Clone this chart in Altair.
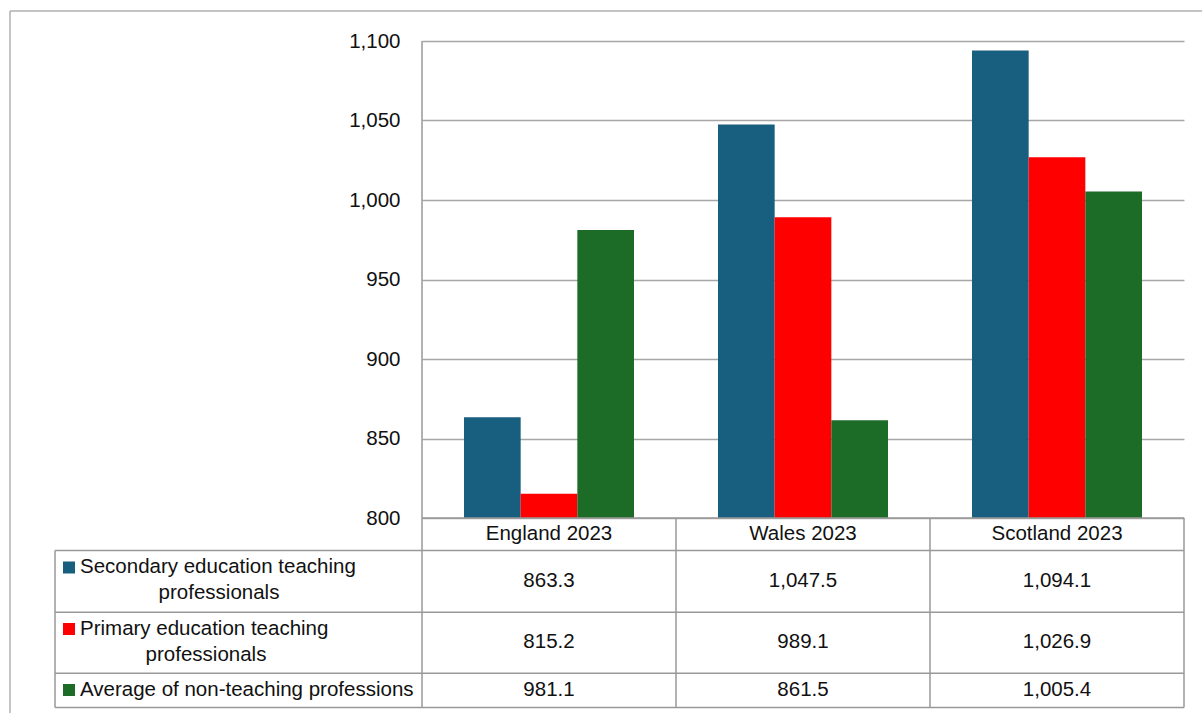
import altair as alt
import pandas as pd

categories = ["England 2023", "Wales 2023", "Scotland 2023"]
series = [
    "Secondary education teaching professionals",
    "Primary education teaching professionals",
    "Average of non-teaching professions",
]
secondary = [863.3, 1047.5, 1094.1]
primary = [815.2, 989.1, 1026.9]
non_teaching = [981.1, 861.5, 1005.4]
colors = ["#175E7F", "#FF0000", "#1C6B27"]
y_ticks = [800, 850, 900, 950, 1000, 1050, 1100]

rows = []
for s, vals in zip(series, [secondary, primary, non_teaching]):
    for c, v in zip(categories, vals):
        rows.append({"category": c, "series": s, "value": v})
df = pd.DataFrame(rows)
one = pd.DataFrame({"k": [0]})

FONT = "Liberation Sans"
FS = 20.5
GRID = "#A6A6A6"
LINE = "#999999"

W, H = 762, 477

x_enc = alt.X("category:N", sort=categories,
              scale=alt.Scale(paddingInner=0, paddingOuter=0), axis=None)

bars = alt.Chart(df).mark_bar(clip=True).encode(
    x=x_enc,
    xOffset=alt.XOffset("series:N", sort=series,
                        scale=alt.Scale(paddingOuter=0.741, paddingInner=0)),
    y=alt.Y("value:Q",
            scale=alt.Scale(domain=[800, 1100], nice=False, zero=False),
            axis=alt.Axis(values=y_ticks, format=",.0f", title=None, grid=True,
                          gridColor=GRID, gridWidth=1.5, domain=False, ticks=False,
                          labelFont=FONT, labelFontSize=FS, labelColor="#111111",
                          labelPadding=22)),
    color=alt.Color("series:N", sort=series,
                    scale=alt.Scale(domain=series, range=colors), legend=None),
)


def rule(x, x2, y, y2, color=LINE, w=1.5):
    return alt.Chart(one).mark_rule(color=color, strokeWidth=w).encode(
        x=alt.value(x), x2=alt.value(x2), y=alt.value(y), y2=alt.value(y2))


lines = [
    # outer frame
    rule(-412, 800, -30, -30, "#B0B0B0"),
    rule(-412, -412, -30, 680, "#B0B0B0"),
    # axis / table
    rule(0, W, H, H),
    rule(0, 0, 0, 666.5),
    rule(254, 254, H, 666.5),
    rule(508, 508, H, 666.5),
    rule(W, W, H, 666.5),
    rule(-367, -367, 509.5, 666.5),
    rule(-367, W, 509.5, 509.5),
    rule(-367, W, 571.3, 571.3),
    rule(-367, W, 632.3, 632.3),
    rule(-367, W, 666.5, 666.5),
]

header = alt.Chart(pd.DataFrame({"category": categories})).mark_text(
    font=FONT, fontSize=FS, color="#111111", baseline="middle").encode(
    x=alt.X("category:N", sort=categories,
            scale=alt.Scale(paddingInner=0, paddingOuter=0), axis=None),
    y=alt.value(493), text="category:N")

row_y = [540, 601, 649]
value_layers = []
for s, yv in zip(series, row_y):
    value_layers.append(
        alt.Chart(df).transform_filter(alt.datum.series == s).mark_text(
            font=FONT, fontSize=FS, color="#111111", baseline="middle").encode(
            x=alt.X("category:N", sort=categories,
                    scale=alt.Scale(paddingInner=0, paddingOuter=0), axis=None),
            y=alt.value(yv),
            text=alt.Text("value:Q", format=",.1f")))

# legend column of the data table
label_layers = []
key_y = [526.5, 588, 649]
line_specs = [
    [(series[0].rsplit(" ", 1)[0], -342, 526, "left"), (series[0].rsplit(" ", 1)[1], -203, 552, "center")],
    [(series[1].rsplit(" ", 1)[0], -342, 588, "left"), (series[1].rsplit(" ", 1)[1], -216, 614, "center")],
    [(series[2], -342, 649, "left")],
]
for col, ky, specs in zip(colors, key_y, line_specs):
    label_layers.append(alt.Chart(one).mark_square(size=144, color=col, opacity=1).encode(
        x=alt.value(-353), y=alt.value(ky)))
    for txt, xx, yy, al in specs:
        label_layers.append(alt.Chart(one).mark_text(
            font=FONT, fontSize=FS, color="#111111", baseline="middle", align=al,
            text=txt).encode(x=alt.value(xx), y=alt.value(yy)))

chart = alt.layer(bars, *lines, header, *value_layers, *label_layers).properties(
    width=W, height=H,
    autosize=alt.AutoSizeParams(type="none"),
    padding={"left": 422, "top": 41, "right": 18, "bottom": 195},
    background="white",
).configure_view(stroke=None)

chart.save("out.html", embed_options={"renderer": "svg", "actions": False})
